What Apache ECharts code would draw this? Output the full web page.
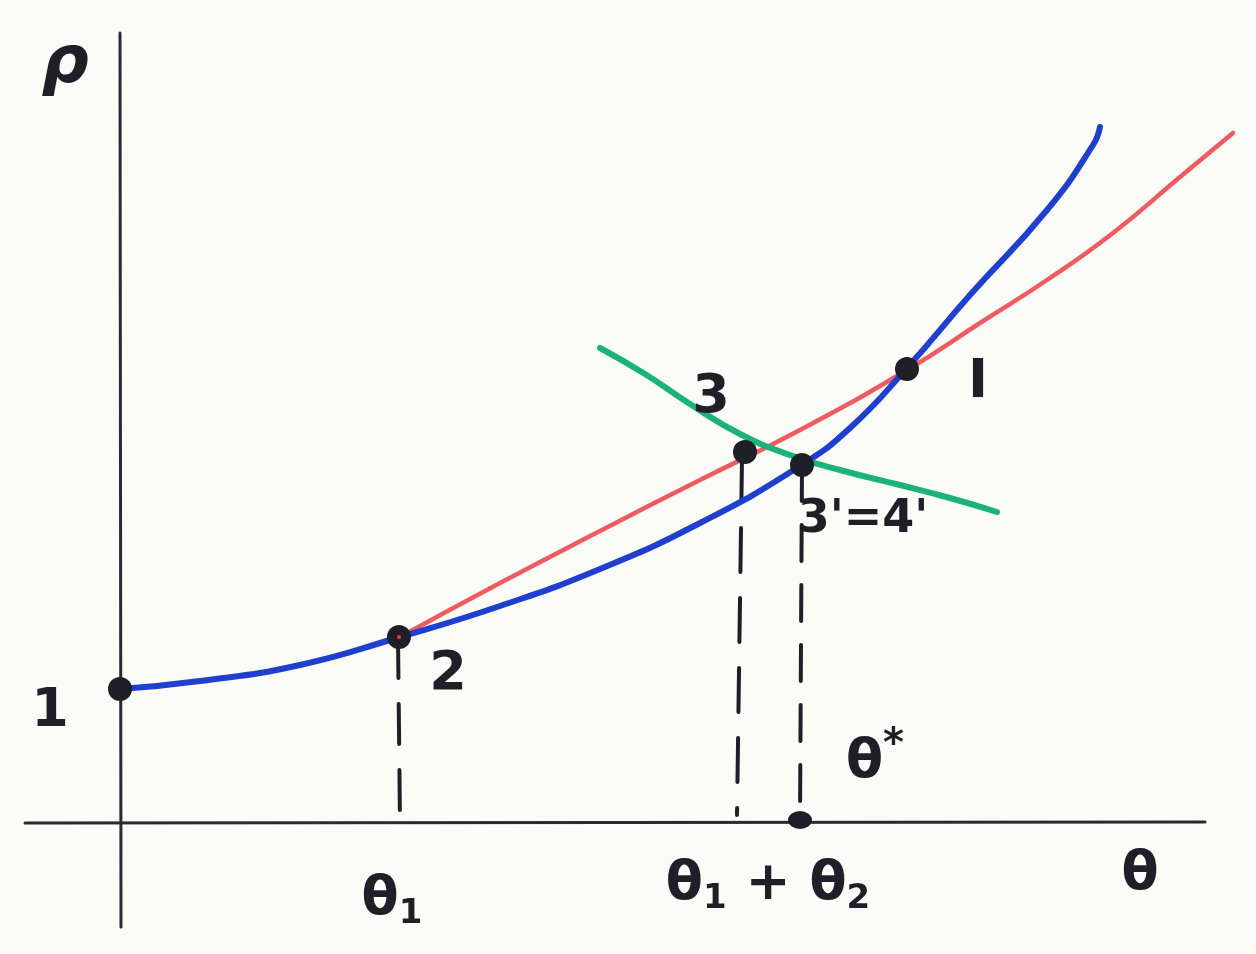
<!DOCTYPE html>
<html><head><meta charset="utf-8">
<script src="https://cdn.jsdelivr.net/npm/echarts@6/dist/echarts.min.js"></script>
<style>html,body{margin:0;padding:0;background:#fbfbf7}#c{width:1256px;height:954px}</style>
</head><body><div id="c"></div>
<script>
// Axis segments (data units)
const axisX = [[-0.95, 0], [10.85, 0.01]];
const axisY = [[0, 7.9], [0.01, -1.04]];
// Curves
const blueCurve = [[0,1.34],[0.8,1.42],[1.8,1.58],[2.8,1.86],[3.8,2.17],[4.8,2.54],[5.8,3.00],[6.8,3.57],[7.3,3.95],[7.87,4.55],[8.5,5.28],[9.27,6.13],[9.73,6.78],[9.8,6.96]];
const redCurve = [[2.8,1.86],[3.8,2.40],[4.8,2.92],[5.8,3.43],[6.8,3.93],[7.87,4.53],[8.6,5.00],[9.27,5.43],[9.93,5.90],[10.6,6.46],[11.13,6.90]];
const greenCurve = [[4.8,4.75],[5.25,4.49],[5.7,4.19],[6.2,3.89],[6.7,3.68],[7.2,3.53],[7.8,3.38],[8.3,3.25],[8.77,3.11]];
// Dashed drop lines
const drop2 = [[2.78,1.85],[2.80,0]];
const drop3 = [[6.22,3.65],[6.17,0.08]];
const drop34 = [[6.82,3.58],[6.80,0.03]];
// Points
const points = [[0,1.34],[2.79,1.86],[6.25,3.71],[6.82,3.58],[7.87,4.54]];
const thetaStar = [[6.80,0.03]];
// Labels [x, y, text]
const labels = [
  [-0.55, 7.58, '{r|ρ}'],
  [-0.70, 1.11, '{n|1}'],
  [3.28, 1.48, '{n|2}'],
  [5.91, 4.25, '{n|3}'],
  [8.58, 4.40, '{n|I}'],
  [7.43, 3.03, '{m|3\'=4\'}'],
  [7.55, 0.60, '{n|θ}{sup|*}'],
  [2.72, -0.77, '{n|θ}{sub|1}'],
  [6.48, -0.62, '{n|θ}{sub|1}{n| + θ}{sub|2}'],
  [10.2, -0.52, '{n|θ}']
];

const ink = '#1f1f28';
const chart = echarts.init(document.getElementById('c'));
const lineS = (data, color, width, extra) => Object.assign({
  type: 'line', data, smooth: 0.5, symbol: 'none', silent: true,
  lineStyle: { color, width, cap: 'round', join: 'round' }
}, extra || {});
const dash = (data, pattern) => lineS(data, ink, 4, { smooth: false, lineStyle: { color: ink, width: 4, type: pattern, cap: 'round' } });
chart.setOption({
  backgroundColor: '#fbfbf7',
  animation: false,
  grid: { left: 0, right: 0, top: 0, bottom: 0 },
  xAxis: { type: 'value', min: -1.2, max: 11.36, show: false },
  yAxis: { type: 'value', min: -1.31, max: 8.23, show: false },
  series: [
    lineS(axisX, '#2a2a33', 3, { smooth: false }),
    lineS(axisY, '#2a2a33', 3, { smooth: false }),
    dash(drop2, [40, 26]),
    dash(drop3, [44, 26]),
    dash(drop34, [36, 24]),
    lineS(redCurve, '#ee5c62', 4.5),
    lineS(blueCurve, '#1f3fcf', 6),
    lineS(greenCurve, '#1cb27c', 6),
    { type: 'scatter', data: points, symbol: 'circle', symbolSize: 24, itemStyle: { color: ink, opacity: 1 }, silent: true, z: 5 },
    { type: 'scatter', data: [points[1]], symbol: 'circle', symbolSize: 4, itemStyle: { color: '#e84040', opacity: 1 }, silent: true, z: 6 },
    { type: 'scatter', data: thetaStar, symbol: 'circle', symbolSize: [24, 18], itemStyle: { color: ink, opacity: 1 }, silent: true, z: 5 },
    {
      type: 'scatter', symbolSize: 0, silent: true, z: 7,
      itemStyle: { opacity: 1 },
      data: labels.map(l => ({ value: [l[0], l[1]], text: l[2] })),
      label: {
        show: true, position: 'inside', opacity: 1,
        formatter: p => p.data.text,
        color: ink,
        fontFamily: 'DejaVu Sans',
        fontWeight: 'bold',
        rich: {
          r: { fontSize: 66, fontStyle: 'italic', fontWeight: 'bold', fontFamily: 'DejaVu Sans', color: ink },
          n: { fontSize: 54, fontWeight: 'bold', fontFamily: 'DejaVu Sans', color: ink },
          m: { fontSize: 46, fontWeight: 'bold', fontFamily: 'DejaVu Sans', color: ink },
          sub: { fontSize: 34, fontWeight: 'bold', fontFamily: 'DejaVu Sans', color: ink, padding: [28, 0, 0, 0] },
          sup: { fontSize: 40, fontWeight: 'bold', fontFamily: 'DejaVu Sans', color: ink, padding: [0, 0, 34, 0] }
        }
      }
    }
  ]
});
</script></body></html>
